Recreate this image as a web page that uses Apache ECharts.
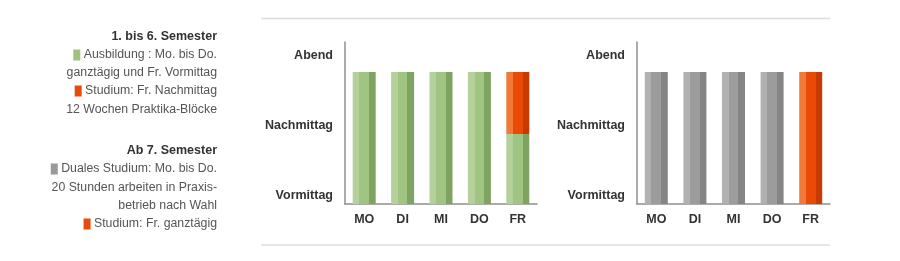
<!DOCTYPE html>
<html>
<head>
<meta charset="utf-8">
<script src="https://cdn.jsdelivr.net/npm/echarts@6/dist/echarts.min.js"></script>
<style>html,body{margin:0;padding:0;background:#fff;}#c{width:900px;height:261px;}</style>
</head>
<body>
<div id="c"></div>
<script>
// ---- data ----
var days = ['MO', 'DI', 'MI', 'DO', 'FR'];
var timeLabelValues = [4, 39, 74];
var timeLabelNames = ['Vormittag', 'Nachmittag', 'Abend'];
// semester 1-6
var ausbildung = [66, 66, 66, 66, 35];
var studium1 = [0, 0, 0, 0, 31];
// ab 7. semester
var duales = [66, 66, 66, 66, 0];
var studium2 = [0, 0, 0, 0, 66];

var legend1 = ['Ausbildung : Mo. bis Do.', 'ganztägig und Fr. Vormittag', 'Studium: Fr. Nachmittag', '12 Wochen Praktika-Blöcke'];
var legend2 = ['Duales Studium: Mo. bis Do.', '20 Stunden arbeiten in Praxis-', 'betrieb nach Wahl', 'Studium: Fr. ganztägig'];

// ---- styles ----
function stripes(l, m, d) {
  return {
    type: 'linear', x: 0, y: 0, x2: 1, y2: 0,
    colorStops: [
      {offset: 0, color: l}, {offset: 0.29, color: l},
      {offset: 0.29, color: m}, {offset: 0.71, color: m},
      {offset: 0.71, color: d}, {offset: 1, color: d}
    ]
  };
}
var green = stripes('#b4d09b', '#a0c481', '#7fa360');
var gray = stripes('#b1b1b1', '#9c9c9c', '#858585');
var orange = stripes('#f07a3a', '#ea4a05', '#c73b02');

var FONT = '"Liberation Sans", Arial, Helvetica, sans-serif';
var labelMap = {};
timeLabelValues.forEach(function (v, i) { labelMap[v] = timeLabelNames[i]; });

function xAxis(gi) {
  return {
    type: 'category', gridIndex: gi, data: days,
    axisLine: {lineStyle: {color: '#8f8f8f', width: 1.5}},
    axisTick: {show: false},
    axisLabel: {margin: 9, color: '#333', fontWeight: 'bold', fontSize: 12.5, fontFamily: FONT}
  };
}
function yAxis(gi) {
  return {
    type: 'value', gridIndex: gi, min: 0, max: 81,
    splitLine: {show: false},
    axisTick: {show: false},
    axisLine: {show: true, lineStyle: {color: '#8f8f8f', width: 1.5}},
    axisLabel: {
      customValues: timeLabelValues,
      margin: 12, color: '#333', fontWeight: 'bold', fontSize: 12.5, fontFamily: FONT,
      formatter: function (v) { return labelMap[v] || ''; }
    }
  };
}
function bar(name, data, color, gi) {
  return {
    name: name, type: 'bar', stack: 's' + gi, xAxisIndex: gi, yAxisIndex: gi,
    data: data, barWidth: 23, itemStyle: {color: color}, silent: true
  };
}

var rich = {
  sg: {backgroundColor: '#9fc37f', width: 7, height: 11},
  so: {backgroundColor: '#e84a0a', width: 7, height: 11},
  sy: {backgroundColor: '#999999', width: 7, height: 11},
  t: {color: '#555', fontSize: 12.3, fontFamily: FONT}
};
function line(y, text, bold) {
  return {
    type: 'text', right: 900 - 217, y: y,
    style: {
      text: text, rich: rich, align: 'right', verticalAlign: 'middle',
      fill: bold ? '#333' : '#555', fontSize: bold ? 12.5 : 12.3,
      fontWeight: bold ? 'bold' : 'normal', fontFamily: FONT
    }
  };
}
function txt(x, y, text, bold) {
  return {
    type: 'text', x: x, y: y,
    style: {
      text: text, rich: rich, align: 'right', verticalAlign: 'middle',
      fill: bold ? '#333' : '#555', fontSize: bold ? 12.5 : 12.3,
      fontWeight: bold ? 'bold' : 'normal', fontFamily: FONT
    }
  };
}

var chart = echarts.init(document.getElementById('c'), null, {renderer: 'canvas'});
chart.setOption({
  animation: false,
  backgroundColor: '#fff',
  grid: [
    {left: 345, right: 363, top: 42, bottom: 57},
    {left: 637, right: 70, top: 42, bottom: 57}
  ],
  xAxis: [xAxis(0), xAxis(1)],
  yAxis: [yAxis(0), yAxis(1)],
  series: [
    bar('Ausbildung', ausbildung, green, 0),
    bar('Studium', studium1, orange, 0),
    bar('Duales Studium', duales, gray, 1),
    bar('Studium', studium2, orange, 1)
  ],
  graphic: [
    {type: 'line', shape: {x1: 261, y1: 18.5, x2: 830, y2: 18.5}, style: {stroke: '#dcdcdc', lineWidth: 1.5}},
    {type: 'line', shape: {x1: 261, y1: 245, x2: 830, y2: 245}, style: {stroke: '#dcdcdc', lineWidth: 1.5}},
    txt(217, 37, '1. bis 6. Semester', true),
    txt(217, 55, '{sg|} {t|' + legend1[0] + '}'),
    txt(217, 73, legend1[1]),
    txt(217, 91, '{so|} {t|' + legend1[2] + '}'),
    txt(217, 109.5, legend1[3]),
    txt(217, 151, 'Ab 7. Semester', true),
    txt(217, 169, '{sy|} {t|' + legend2[0] + '}'),
    txt(217, 187.5, legend2[1]),
    txt(217, 206, legend2[2]),
    txt(217, 224, '{so|} {t|' + legend2[3] + '}')
  ]
});
</script>
</body>
</html>
